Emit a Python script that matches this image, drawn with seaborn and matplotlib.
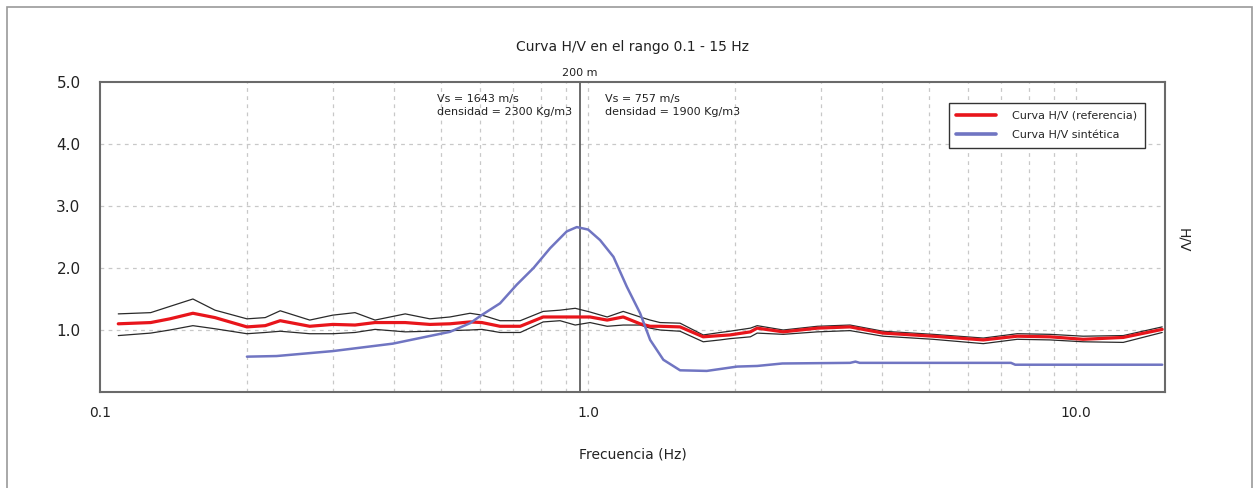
import matplotlib
matplotlib.use("Agg")
import matplotlib.pyplot as plt
from matplotlib.lines import Line2D
from matplotlib.patches import Rectangle
from matplotlib.ticker import FixedLocator, LogLocator, NullFormatter
import seaborn as sns

# Measured H/V spectral ratio: mean and +/- one standard deviation
freq_hz = [0.109, 0.127, 0.139, 0.155, 0.172, 0.200, 0.218, 0.234, 0.269, 0.300,
           0.333, 0.366, 0.422, 0.474, 0.521, 0.573, 0.606, 0.660, 0.726, 0.809,
           0.876, 0.941, 1.009, 1.094, 1.180, 1.278, 1.340, 1.404, 1.543, 1.721,
           1.865, 1.950, 2.150, 2.220, 2.510, 2.950, 3.440, 4.020, 5.090, 6.450,
           7.570, 8.840, 10.33, 12.48, 15.00]
hv_mean = [1.10, 1.12, 1.18, 1.27, 1.20, 1.05, 1.07, 1.15, 1.06, 1.09,
           1.08, 1.12, 1.12, 1.09, 1.10, 1.13, 1.12, 1.06, 1.06, 1.21,
           1.21, 1.21, 1.21, 1.16, 1.21, 1.10, 1.06, 1.06, 1.05, 0.89,
           0.91, 0.92, 0.97, 1.03, 0.97, 1.03, 1.05, 0.95, 0.90, 0.84,
           0.90, 0.89, 0.85, 0.88, 1.01]
hv_upper = [1.26, 1.28, 1.38, 1.50, 1.32, 1.18, 1.20, 1.31, 1.16, 1.24,
            1.28, 1.16, 1.26, 1.18, 1.21, 1.27, 1.24, 1.15, 1.15, 1.30,
            1.32, 1.35, 1.29, 1.21, 1.30, 1.21, 1.16, 1.12, 1.11, 0.92,
            0.96, 0.98, 1.03, 1.07, 1.00, 1.06, 1.08, 0.98, 0.93, 0.87,
            0.94, 0.93, 0.90, 0.91, 1.05]
hv_lower = [0.91, 0.95, 1.00, 1.07, 1.02, 0.94, 0.96, 0.98, 0.94, 0.94,
            0.96, 1.01, 0.97, 0.98, 0.99, 1.00, 1.01, 0.96, 0.96, 1.13,
            1.15, 1.08, 1.12, 1.06, 1.08, 1.08, 1.03, 1.00, 0.98, 0.81,
            0.84, 0.86, 0.89, 0.95, 0.93, 0.97, 0.99, 0.90, 0.85, 0.78,
            0.85, 0.84, 0.81, 0.80, 0.96]

# Synthetic H/V curve from the layered model
synth_freq = [0.200, 0.230, 0.300, 0.398, 0.452, 0.521, 0.573, 0.605, 0.660, 0.714,
              0.773, 0.836, 0.904, 0.948, 1.000, 1.058, 1.127, 1.200, 1.278, 1.340,
              1.426, 1.543, 1.750, 2.020, 2.220, 2.500, 3.440, 3.530, 3.600, 7.350,
              7.500, 15.00]
synth_hv = [0.57, 0.58, 0.66, 0.78, 0.87, 0.97, 1.11, 1.24, 1.43, 1.73,
            2.00, 2.32, 2.59, 2.66, 2.62, 2.45, 2.18, 1.70, 1.27, 0.84,
            0.52, 0.35, 0.34, 0.41, 0.42, 0.46, 0.47, 0.49, 0.47, 0.47,
            0.44, 0.44]

# Layer interface
interface_freq = 0.963
interface_label = "200 m"
layer_notes = [(0.490, "Vs = 1643 m/s\ndensidad = 2300 Kg/m3"),
               (1.083, "Vs = 757 m/s\ndensidad = 1900 Kg/m3")]

x_ticks = [0.1, 1.0, 10.0]
x_tick_labels = ["0.1", "1.0", "10.0"]
y_ticks = [1.0, 2.0, 3.0, 4.0, 5.0]
y_tick_labels = ["1.0", "2.0", "3.0", "4.0", "5.0"]

RED = "#e8151b"
BLUE = "#7075c2"
BAND = "#2a2a2a"
GRID = "#c8c8c8"

sns.set_style("white")
plt.rcParams["font.family"] = ["DejaVu Sans"]

fig = plt.figure(figsize=(12.59, 4.88), dpi=100)
ax = fig.add_axes([100 / 1259, 1 - 392 / 488, 1065 / 1259, 310 / 488])

# outer frame of the figure
fig.patches.append(Rectangle((7 / 1259, -0.05), 1245 / 1259, 1.05 - 7 / 488,
                             transform=fig.transFigure, fill=False,
                             edgecolor="#9a9a9a", linewidth=1.2))

ax.set_xscale("log")
ax.set_xlim(0.1, 15.2)
ax.set_ylim(0, 5)

# grid
for yv in [1, 2, 3, 4]:
    ax.axhline(yv, color=GRID, lw=0.9, ls=(0, (3, 3.5)), zorder=0)
grid_x = [m * 10.0 ** e for e in (-1, 0) for m in range(2, 10)] + [1.0, 10.0]
for xv in grid_x:
    ax.axvline(xv, color=GRID, lw=0.9, ls=(0, (3, 3.5)), zorder=0)

# interface line
ax.axvline(interface_freq, color="#606060", lw=1.3, zorder=1)

sns.lineplot(x=freq_hz, y=hv_upper, ax=ax, color=BAND, lw=0.9,
             estimator=None, sort=False, zorder=2)
sns.lineplot(x=freq_hz, y=hv_lower, ax=ax, color=BAND, lw=0.9,
             estimator=None, sort=False, zorder=2)
sns.lineplot(x=freq_hz, y=hv_mean, ax=ax, color=RED, lw=2.3,
             estimator=None, sort=False, zorder=3)
sns.lineplot(x=synth_freq, y=synth_hv, ax=ax, color=BLUE, lw=1.8,
             estimator=None, sort=False, zorder=4)

# ticks
ax.xaxis.set_major_locator(FixedLocator(x_ticks))
ax.set_xticklabels(x_tick_labels)
ax.xaxis.set_minor_locator(LogLocator(base=10, subs=range(2, 10)))
ax.xaxis.set_minor_formatter(NullFormatter())
ax.set_yticks(y_ticks)
ax.set_yticklabels(y_tick_labels)
ax.tick_params(axis="both", which="both", length=0)
ax.tick_params(axis="y", labelsize=11, pad=14, colors="#222222")
ax.tick_params(axis="x", labelsize=10, pad=10, colors="#222222")

for sp in ax.spines.values():
    sp.set_color("#6a6a6a")
    sp.set_linewidth(1.5)

ax.set_title("Curva H/V en el rango 0.1 - 15 Hz", fontsize=10, pad=22,
             color="#222222")
ax.set_xlabel("Frecuencia (Hz)", fontsize=10, labelpad=20, color="#222222")
ax.yaxis.set_label_position("right")
ax.set_ylabel("H/V", fontsize=10, rotation=270, va="center", color="#222222")
ax.yaxis.set_label_coords(1.017, 0.49)

ax.annotate(interface_label, xy=(interface_freq, 1.0),
            xycoords=("data", "axes fraction"), xytext=(0, 3),
            textcoords="offset points", ha="center", va="bottom",
            fontsize=8, color="#222222")
for fx, txt in layer_notes:
    ax.text(fx, 4.81, txt, ha="left", va="top", fontsize=8,
            color="#222222", linespacing=1.4)

handles = [Line2D([], [], color=RED, lw=2.6),
           Line2D([], [], color=BLUE, lw=2.6)]
leg = ax.legend(handles, ["Curva H/V (referencia)", "Curva H/V sintética"],
                loc="upper right", bbox_to_anchor=(0.981, 0.932),
                fontsize=8, frameon=True, fancybox=False, framealpha=1,
                edgecolor="#333333", handlelength=3.6, borderpad=0.7,
                labelspacing=0.8, handletextpad=1.4, borderaxespad=0)
leg.get_frame().set_linewidth(1.0)

fig.savefig("out.png", dpi=100)
